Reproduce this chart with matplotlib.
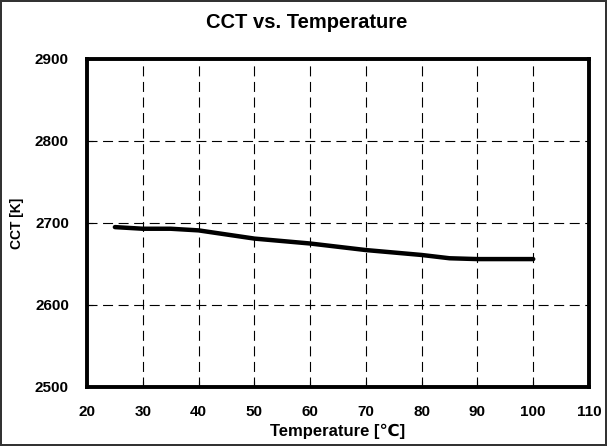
import matplotlib
matplotlib.use('Agg')
import matplotlib.pyplot as plt

plt.rcParams['font.family'] = ['Liberation Sans', 'DejaVu Sans']
plt.rcParams['font.weight'] = 'bold'

# Datos
temperatura = [25, 30, 35, 40, 45, 50, 55, 60, 65, 70, 75, 80, 85, 90, 95, 100]
cct = [2695, 2693, 2693, 2691, 2686, 2681, 2678, 2675, 2671, 2667, 2664, 2661, 2657, 2656, 2656, 2656]

x_ticks = list(range(20, 111, 10))
y_ticks = list(range(2500, 2901, 100))

fig = plt.figure(figsize=(6.07, 4.46), dpi=100)
fig.patch.set_edgecolor('#333333')
fig.patch.set_linewidth(1.5)
# ejes: izquierda 87px, derecha 589px, arriba 59px, abajo 387px
ax = fig.add_axes([87 / 607, 1 - 387 / 446, 502 / 607, 328 / 446])

ax.plot(temperatura, cct, color='black', linewidth=3.2, solid_capstyle='round', zorder=3)

ax.set_xlim(20, 110)
ax.set_ylim(2500, 2900)
ax.set_xticks(x_ticks)
ax.set_yticks(y_ticks)
ax.tick_params(direction='in', length=4, width=0.8, labelsize=11, pad=13)
ax.grid(True, color='black', linestyle=(0, (9, 5)), linewidth=0.8)
for s in ax.spines.values():
    s.set_linewidth(2.8)

fig.text(0.506, 1 - 22 / 446, 'CCT vs. Temperature', fontsize=14.5, fontweight='bold',
         ha='center', va='center')
ax.set_xlabel('Temperature [℃]', fontsize=12, fontweight='bold')
ax.set_ylabel('CCT [K]', fontsize=10, fontweight='bold')
ax.xaxis.set_label_coords(0.5, (387 - 424) / 328)
ax.yaxis.set_label_coords((24 - 87) / 502, 0.5)

fig.savefig('out.png', dpi=100)
